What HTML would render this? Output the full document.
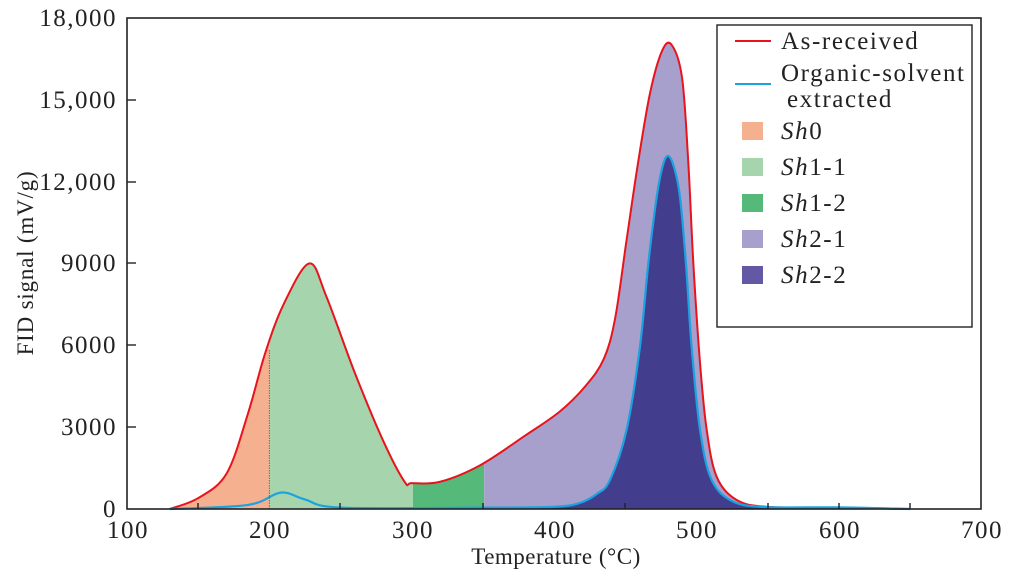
<!DOCTYPE html>
<html><head><meta charset="utf-8"><style>
body{margin:0;background:#fff}
svg{display:block;font-family:"Liberation Serif",serif}
</style></head><body>
<svg id="s" width="1011" height="577" viewBox="0 0 1011 577">
<defs>
<clipPath id="c0"><rect x="0" y="0" width="269.3" height="577"/></clipPath>
<clipPath id="c1"><rect x="269.3" y="0" width="143.7" height="577"/></clipPath>
<clipPath id="c2"><rect x="413" y="0" width="71.2" height="577"/></clipPath>
<clipPath id="c3"><rect x="484.2" y="0" width="600" height="577"/></clipPath>
</defs>
<g id="fills"></g>
<g id="lines"></g>
<line x1="269.3" y1="350" x2="269.3" y2="509" stroke="#555" stroke-width="0.8" stroke-dasharray="1.5,1"/>
<rect x="127" y="18" width="854" height="491" fill="none" stroke="#222" stroke-width="1.6"/>
<g stroke="#222" stroke-width="1.4">
<line x1="127" y1="100" x2="136" y2="100"/><line x1="127" y1="182" x2="136" y2="182"/>
<line x1="127" y1="263" x2="136" y2="263"/><line x1="127" y1="345" x2="136" y2="345"/>
<line x1="127" y1="427" x2="136" y2="427"/>
<line x1="198" y1="509" x2="198" y2="503"/><line x1="340" y1="509" x2="340" y2="503"/>
<line x1="483" y1="509" x2="483" y2="503"/><line x1="625" y1="509" x2="625" y2="503"/>
<line x1="768" y1="509" x2="768" y2="503"/><line x1="839" y1="509" x2="839" y2="503"/><line x1="910" y1="509" x2="910" y2="503"/>
</g>
<g font-size="25" letter-spacing="1.5" fill="#222" text-anchor="end">
<text x="117" y="26">18,000</text><text x="117" y="108">15,000</text>
<text x="117" y="190">12,000</text><text x="117" y="271">9000</text>
<text x="117" y="353">6000</text><text x="117" y="435">3000</text>
<text x="117" y="517">0</text>
</g>
<g font-size="25" letter-spacing="1.5" fill="#222" text-anchor="middle">
<text x="128" y="538">100</text><text x="270" y="538">200</text><text x="413" y="538">300</text>
<text x="555" y="538">400</text><text x="697" y="538">500</text><text x="840" y="538">600</text><text x="982" y="538">700</text>
</g>
<text x="556" y="564" font-size="23" letter-spacing="0.5" fill="#222" text-anchor="middle">Temperature (°C)</text>
<text transform="translate(33,263) rotate(-90)" font-size="23" letter-spacing="0.8" fill="#222" text-anchor="middle">FID signal (mV/g)</text>
<rect x="717" y="25" width="255" height="302" fill="#fff" stroke="#222" stroke-width="1.4"/>
<line x1="735" y1="41" x2="771" y2="41" stroke="#e8141c" stroke-width="2"/>
<line x1="735" y1="84" x2="771" y2="84" stroke="#1aa3e0" stroke-width="2"/>
<rect x="742" y="122" width="21" height="18" fill="#f4b08f"/>
<rect x="742" y="158" width="21" height="18" fill="#a6d5ad"/>
<rect x="742" y="194" width="21" height="18" fill="#55b97a"/>
<rect x="742" y="230" width="21" height="18" fill="#a79fcc"/>
<rect x="742" y="266" width="21" height="18" fill="#6358a3"/>
<g font-size="25" letter-spacing="1.6" fill="#222">
<text x="781" y="49">As-received</text>
<text x="781" y="81">Organic-solvent</text>
<text x="787" y="107">extracted</text>
<text x="781" y="139"><tspan font-style="italic">Sh</tspan>0</text>
<text x="781" y="175"><tspan font-style="italic">Sh</tspan>1-1</text>
<text x="781" y="211"><tspan font-style="italic">Sh</tspan>1-2</text>
<text x="781" y="247"><tspan font-style="italic">Sh</tspan>2-1</text>
<text x="781" y="283"><tspan font-style="italic">Sh</tspan>2-2</text>
</g>
</svg>
<script>
const X=t=>127+(t-100)*1.4233, Y=v=>509-v*0.02728;
const red=[[130,0],[150,400],[170,1300],[185,3500],[197,5700],[210,7500],[228,9000],[240,7800],[260,5000],[280,2500],[295,1000],[300,950],[320,1000],[348,1600],[380,2700],[404,3570],[422,4500],[435,5500],[443,7000],[451,9860],[459,12670],[467.5,15250],[476,16800],[482.7,17010],[490,15800],[494.4,12670],[497.9,9010],[502.6,5350],[507.3,2900],[514.3,1180],[528.4,330],[550,80],[600,50],[650,0]];
const blue=[[130,0],[185,150],[208,600],[225,350],[250,50],[350,50],[400,80],[418,220],[430,550],[439.3,1060],[451,2900],[460.4,5950],[466.3,9010],[472.2,11450],[476.5,12600],[480.3,12940],[484.5,12500],[488.5,11450],[492.7,9010],[496.7,5950],[502.6,2900],[510.8,1060],[526,270],[550,70],[600,60],[650,0]];
function path(p){const q=p.map(a=>[X(a[0]),Y(a[1])]);let d="M"+q[0].join(",");
for(let i=0;i<q.length-1;i++){const p0=q[Math.max(i-1,0)],p1=q[i],p2=q[i+1],p3=q[Math.min(i+2,q.length-1)];
const k=1/6;d+=` C${p1[0]+(p2[0]-p0[0])*k},${Math.min(509,p1[1]+(p2[1]-p0[1])*k)} ${p2[0]-(p3[0]-p1[0])*k},${Math.min(509,p2[1]-(p3[1]-p1[1])*k)} ${p2[0]},${p2[1]}`;}return d;}
const rd=path(red),bd=path(blue);
const ra=rd+` L${X(650)},509 L${X(130)},509Z`, ba=bd+` L${X(650)},509 L${X(130)},509Z`;
const ns="http://www.w3.org/2000/svg";
function add(g,d,a){const e=document.createElementNS(ns,"path");e.setAttribute("d",d);for(const k in a)e.setAttribute(k,a[k]);document.getElementById(g).appendChild(e);}
add("fills",ra,{fill:"#f4b08f","clip-path":"url(#c0)"});
add("fills",ra,{fill:"#a6d5ad","clip-path":"url(#c1)"});
add("fills",ra,{fill:"#55b97a","clip-path":"url(#c2)"});
add("fills",ra,{fill:"#a79fcc","clip-path":"url(#c3)"});
add("fills",ba,{fill:"#433d8e","clip-path":"url(#c3)"});
add("lines",rd,{fill:"none",stroke:"#e8141c","stroke-width":2});
add("lines",bd,{fill:"none",stroke:"#1aa3e0","stroke-width":2.2});
</script>
</body></html>
